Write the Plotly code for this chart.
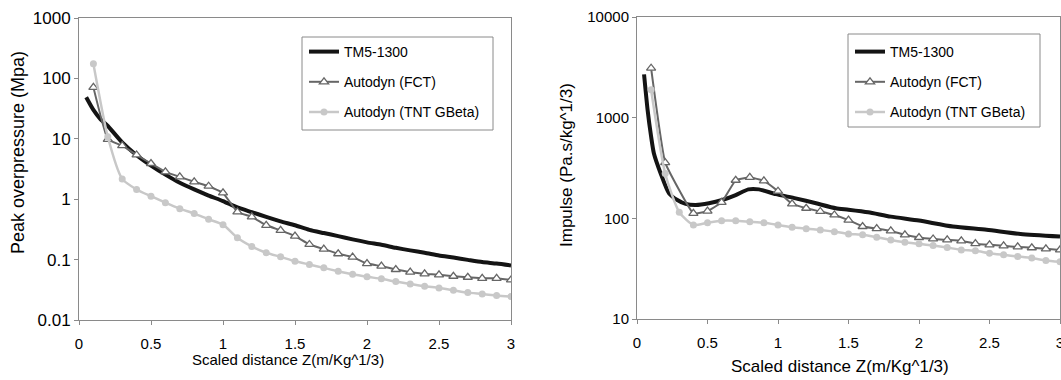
import plotly.graph_objects as go

FONT = "Arial, 'Liberation Sans', sans-serif"
W, H = 1061, 380

# ---------------- Left chart: peak overpressure (MPa) ----------------
tm5_p_x = [0.05, 0.1, 0.15, 0.2, 0.3, 0.4, 0.5, 0.6, 0.7, 0.8, 0.9, 1.0,
           1.1, 1.2, 1.3, 1.4, 1.5, 1.6, 1.7, 1.8, 1.9, 2.0, 2.1, 2.2, 2.3,
           2.4, 2.5, 2.6, 2.7, 2.8, 2.9, 3.0]
tm5_p_y = [48.6, 30, 21, 16.3, 8.7, 5.35, 3.6, 2.55, 1.87, 1.45, 1.15, 0.93,
           0.73, 0.61, 0.51, 0.43, 0.37, 0.31, 0.275, 0.245, 0.216, 0.193,
           0.176, 0.157, 0.142, 0.13, 0.117, 0.108, 0.099, 0.091, 0.086, 0.080]

z_sim = [0.1, 0.2, 0.3, 0.4, 0.5, 0.6, 0.7, 0.8, 0.9, 1.0, 1.1, 1.2, 1.3,
         1.4, 1.5, 1.6, 1.7, 1.8, 1.9, 2.0, 2.1, 2.2, 2.3, 2.4, 2.5, 2.6,
         2.7, 2.8, 2.9, 3.0]
fct_p = [71, 9.8, 7.7, 5.4, 3.9, 2.84, 2.34, 1.94, 1.64, 1.27, 0.615, 0.51,
         0.37, 0.305, 0.245, 0.178, 0.149, 0.125, 0.11, 0.086, 0.078, 0.0686,
         0.062, 0.058, 0.056, 0.053, 0.051, 0.049, 0.049, 0.046]
gbeta_p = [174, 10.8, 2.17, 1.45, 1.12, 0.877, 0.698, 0.577, 0.464, 0.379,
           0.23, 0.165, 0.13, 0.111, 0.094, 0.083, 0.073, 0.064, 0.057, 0.052,
           0.048, 0.0433, 0.0396, 0.0362, 0.034, 0.0311, 0.0284, 0.027,
           0.0254, 0.0244]

# ---------------- Right chart: impulse (Pa.s/kg^1/3) ----------------
tm5_i_x = [0.05, 0.075, 0.1, 0.12, 0.168, 0.227, 0.286, 0.345, 0.416, 0.51,
           0.605, 0.70, 0.79, 0.865, 0.984, 1.125, 1.27, 1.41, 1.5, 1.64,
           1.8, 2.0, 2.24, 2.48, 2.72, 3.0]
tm5_i_y = [2690, 1200, 650, 440, 279, 177, 152, 139, 135.5, 141, 152, 170,
           194, 194, 174, 158, 141, 126, 122, 115, 104, 95, 83, 77, 70, 66]

fct_i_x = [0.1, 0.2, 0.4, 0.5, 0.6, 0.7, 0.8, 0.9, 1.0, 1.1, 1.2, 1.3, 1.4,
           1.5, 1.6, 1.7, 1.8, 1.9, 2.0, 2.1, 2.2, 2.3, 2.4, 2.5, 2.6, 2.7,
           2.8, 2.9, 3.0]
fct_i = [3100, 358, 112, 118, 144, 239, 255, 236, 186, 139, 126, 117, 108,
         96, 83, 79, 75, 68.6, 64.5, 62.4, 61, 59.7, 56, 54.5, 53.3, 52, 51,
         49.8, 48.6]

gbeta_i = [1890, 279, 115, 86, 90.5, 94.6, 94.6, 92.5, 90.5, 86, 81.5, 78.9,
           76.6, 73.7, 70, 68.6, 65, 61, 58, 55.8, 53.7, 51.3, 48.6, 47.6,
           45.1, 43.4, 41.8, 40.3, 38.2, 37]

names = ["TM5-1300", "Autodyn (FCT)", "Autodyn (TNT GBeta)"]
x_ticks = [0, 0.5, 1, 1.5, 2, 2.5, 3]
x_tick_text = ["0", "0.5", "1", "1.5", "2", "2.5", "3"]
yl_ticks = [0.01, 0.1, 1, 10, 100, 1000]
yl_tick_text = ["0.01", "0.1", "1", "10", "100", "1000"]
yr_ticks = [10, 100, 1000, 10000]
yr_tick_text = ["10", "100", "1000", "10000"]
x_title = "Scaled distance Z(m/Kg^1/3)"
yl_title = "Peak overpressure (Mpa)"
yr_title = "Impulse (Pa.s/kg^1/3)"

BLACK = "#141414"
DARK = "#666666"
LIGHT = "#c8c8c8"
FRAME = "#8a8a8a"

fig = go.Figure()

def add_series(xa, ya, x_tm, y_tm, x_f, y_f, x_g, y_g, leg):
    fig.add_trace(go.Scatter(x=x_tm, y=y_tm, name=names[0], mode="lines",
                             line=dict(color=BLACK, width=4, shape="spline", smoothing=0.6),
                             xaxis=xa, yaxis=ya, legend=leg, legendgroup=leg + "a"))
    fig.add_trace(go.Scatter(x=x_f, y=y_f, name=names[1], mode="lines+markers",
                             line=dict(color=DARK, width=2, shape="spline", smoothing=0.3),
                             marker=dict(symbol="triangle-up", size=8, color="white",
                                         line=dict(color=DARK, width=1.3)),
                             xaxis=xa, yaxis=ya, legend=leg, legendgroup=leg + "b"))
    fig.add_trace(go.Scatter(x=x_g, y=y_g, name=names[2], mode="lines+markers",
                             line=dict(color=LIGHT, width=2.5, shape="spline", smoothing=0.6),
                             marker=dict(symbol="circle", size=7, color=LIGHT),
                             xaxis=xa, yaxis=ya, legend=leg, legendgroup=leg + "c"))

add_series("x", "y", tm5_p_x, tm5_p_y, z_sim, fct_p, z_sim, gbeta_p, "legend")
add_series("x2", "y2", tm5_i_x, tm5_i_y, fct_i_x, fct_i, z_sim, gbeta_i, "legend2")

axis_common = dict(showline=True, linecolor=FRAME, linewidth=1, mirror=True,
                   ticks="outside", ticklen=4, tickcolor=FRAME, showgrid=False,
                   zeroline=False, automargin=False, ticklabeloverflow="allow",
                   tickfont=dict(family=FONT, size=15, color="black"))

def px(x):
    return x / W

def py(y):
    return 1 - y / H

def title(text, x, y, size, angle=0):
    return dict(text=text, x=px(x), y=py(y), xref="paper", yref="paper",
                xanchor="center", yanchor="middle", showarrow=False,
                textangle=angle, font=dict(family=FONT, size=size, color="black"))

fig.update_layout(
    width=W, height=H, margin=dict(l=0, r=0, t=0, b=0),
    paper_bgcolor="white", plot_bgcolor="white",
    font=dict(family=FONT, color="black"),
    xaxis=dict(axis_common, domain=[px(79), px(511)], range=[0, 3],
               tickvals=x_ticks, ticktext=x_tick_text, anchor="y",
               ticklabelstandoff=6),
    yaxis=dict(axis_common, domain=[py(320), py(18)], type="log", range=[-2, 3],
               tickvals=yl_ticks, ticktext=yl_tick_text, anchor="x",
               tickfont=dict(family=FONT, size=17, color="black")),
    xaxis2=dict(axis_common, domain=[px(637), px(1060)], range=[0, 3],
                tickvals=x_ticks, ticktext=x_tick_text, anchor="y2",
                ticklabelstandoff=6),
    yaxis2=dict(axis_common, domain=[py(319), py(17)], type="log", range=[1, 4],
                tickvals=yr_ticks, ticktext=yr_tick_text, anchor="x2"),
    legend=dict(x=px(304), y=py(36), xanchor="left", yanchor="top",
                bgcolor="rgba(0,0,0,0)", borderwidth=0, tracegroupgap=9,
                font=dict(family=FONT, size=14, color="black")),
    legend2=dict(x=px(850), y=py(36), xanchor="left", yanchor="top",
                 bgcolor="rgba(0,0,0,0)", borderwidth=0, tracegroupgap=9,
                 font=dict(family=FONT, size=14, color="black")),
    shapes=[
        dict(type="rect", xref="paper", yref="paper", x0=px(302), x1=px(493),
             y0=py(130), y1=py(37), line=dict(color=FRAME, width=1),
             fillcolor="white", layer="below"),
        dict(type="rect", xref="paper", yref="paper", x0=px(848), x1=px(1040),
             y0=py(127), y1=py(34), line=dict(color=FRAME, width=1),
             fillcolor="white", layer="below"),
    ],
    annotations=[
        title(x_title, 288, 359, 15),
        title(x_title, 840, 366, 17),
        title(yl_title, 18, 153, 18, -90),
        title(yr_title, 566, 165, 17, -90),
    ],
)

fig.write_html("out.html")
